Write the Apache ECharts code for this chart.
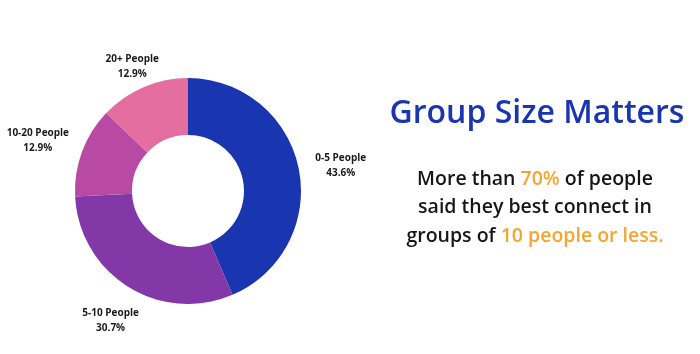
<!DOCTYPE html>
<html>
<head>
<meta charset="utf-8">
<script src="https://cdn.jsdelivr.net/npm/echarts@6/dist/echarts.min.js"></script>
<style>
  html, body { margin: 0; padding: 0; background: #fff; }
  #chart { width: 700px; height: 354px; }
</style>
</head>
<body>
<div id="chart"></div>
<script>
const categories = ["0-5 People", "5-10 People", "10-20 People", "20+ People"];
const shares = [43.6, 30.7, 12.9, 12.9];
const sliceColors = ["#1a35b0", "#8338a8", "#b84aa3", "#e46e9f"];

const headline = "Group Size Matters";
const noteLines = [
  "More than {o|70%} of people",
  "said they best connect in",
  "groups of {o|10 people or less.}",
];

const cx = 188;
const cy = 191;
const outerR = 113;
const innerR = 56;
const labelGap = 18;

const total = shares.reduce((a, b) => a + b, 0);

const chart = echarts.init(document.getElementById("chart"));

const option = {
  backgroundColor: "#fff",
  title: [
    {
      text: headline,
      left: 532,
      top: 93,
      textAlign: "center",
      textStyle: {
        fontFamily: "Open Sans",
        fontSize: 32,
        fontWeight: 600,
        color: "#1a35b0",
      },
    },
    {
      text: noteLines.join("\n"),
      left: 530,
      top: 160,
      textAlign: "center",
      textStyle: {
        fontFamily: "Open Sans",
        fontSize: 19.5,
        fontWeight: 600,
        color: "#161616",
        lineHeight: 28.5,
        rich: {
          o: {
            fontFamily: "Open Sans",
            fontSize: 19.5,
            fontWeight: 600,
            color: "#f7a531",
            lineHeight: 28.5,
          },
        },
      },
    },
  ],
  series: [
    {
      type: "pie",
      center: [cx, cy],
      radius: [innerR, outerR],
      startAngle: 90,
      clockwise: true,
      silent: true,
      data: categories.map((name, i) => ({
        name: name,
        value: shares[i],
        itemStyle: { color: sliceColors[i] },
      })),
      label: {
        show: true,
        position: "outside",
        overflow: "none",
        formatter: "{b}\n{c}%",
        fontFamily: "Open Sans",
        fontSize: 10,
        fontWeight: "bold",
        lineHeight: 15,
        color: "#1a1a1a",
      },
      labelLine: { show: false },
      labelLayout: function (params) {
        const i = params.dataIndex;
        let before = 0;
        for (let k = 0; k < i; k++) before += shares[k];
        const mid = ((before + shares[i] / 2) / total) * 2 * Math.PI;
        const dx = Math.sin(mid);
        const dy = -Math.cos(mid);
        const w = params.labelRect.width;
        const r = outerR + labelGap + Math.abs(dx) * w / 2;
        return {
          x: cx + dx * r,
          y: cy + dy * r + 6,
          align: "center",
          verticalAlign: "middle",
        };
      },
    },
  ],
};

chart.setOption(option);
window.onresize = function () {
  chart.resize();
};
</script>
</body>
</html>
